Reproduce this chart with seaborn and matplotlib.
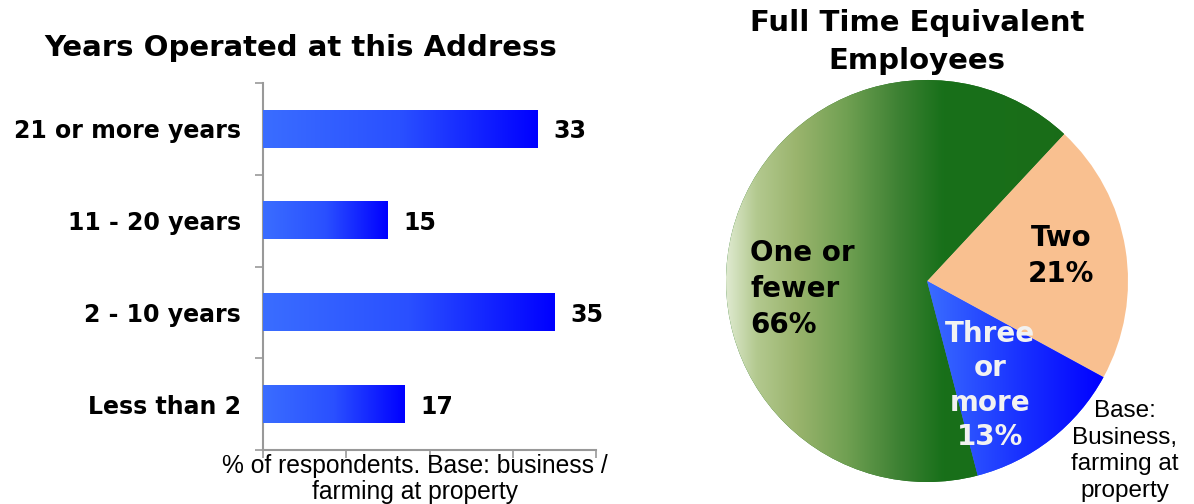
import numpy as np
import pandas as pd
import matplotlib
matplotlib.use("Agg")
import matplotlib.pyplot as plt
from matplotlib.colors import LinearSegmentedColormap, to_rgb
import seaborn as sns

# Years operated at this address (% of respondents)
year_groups = ["21 or more years", "11 - 20 years", "2 - 10 years", "Less than 2"]
year_pct = [33, 15, 35, 17]

# Full time equivalent employees (% of respondents)
fte_labels = ["Two\n21%", "Three\nor\nmore\n13%", "One or\nfewer\n66%"]
fte_pct = [21, 13, 66]

sns.set_theme(style="white")
plt.rcParams["font.family"] = ["DejaVu Sans"]
plt.rcParams.update({"text.color": "black", "axes.labelcolor": "black",
                     "xtick.color": "black", "ytick.color": "black"})

fig = plt.figure(figsize=(11.94, 5.04), dpi=100)
W, H = 1194, 504

# ---------------- bar chart ----------------
ax = fig.add_axes([263 / W, 54 / H, 333 / W, 367 / H])
df = pd.DataFrame({"group": year_groups, "pct": year_pct})
sns.barplot(data=df, x="pct", y="group", orient="h", ax=ax, width=0.41,
            color="#2a4fff", saturation=1, edgecolor="none")

bar_cmap = LinearSegmentedColormap.from_list("bar", ["#3a6dff", "#2a50ff", "#0000ff"])
grad = np.linspace(0, 1, 256).reshape(1, -1)
for p in ax.patches:
    x0, y0, w, h = p.get_x(), p.get_y(), p.get_width(), p.get_height()
    ax.imshow(grad, extent=[x0, x0 + w, y0 + h, y0], aspect="auto",
              cmap=bar_cmap, zorder=3, interpolation="bilinear")

for i, v in enumerate(year_pct):
    ax.text(v + 1.9, i, f"{v}", va="center_baseline", ha="left", fontsize=17,
            fontweight="bold", color="black")

ax.set_xlim(0, 40)
ax.set_ylim(3.5, -0.5)
ax.set_xticks([0, 10, 20, 30, 40])
ax.set_xticklabels([])
ax.set_yticks([-0.5, 0.5, 1.5, 2.5, 3.5])
ax.set_yticklabels([])
ax.set_yticks(range(len(year_groups)), minor=True)
ax.set_yticklabels(year_groups, minor=True, fontsize=17, fontweight="bold")
ax.tick_params(axis="y", which="minor", length=0, pad=16)
ax.tick_params(axis="both", which="major", length=6, width=1.2,
               color="#999999", direction="out")
ax.tick_params(axis="x", which="major", bottom=True)
ax.tick_params(axis="y", which="major", left=True)
ax.set_xlabel("")
ax.set_ylabel("")
for s in ["top", "right"]:
    ax.spines[s].set_visible(False)
for s in ["left", "bottom"]:
    ax.spines[s].set_color("#999999")
    ax.spines[s].set_linewidth(1.5)
ax.grid(False)

fig.text(301 / W, 1 - 48 / H, "Years Operated at this Address", ha="center",
         va="center", fontsize=21, fontweight="bold")
fig.text(415 / W, 1 - 479 / H, "% of respondents. Base: business /\nfarming at property",
         ha="center", va="center", fontsize=17.7, family="Liberation Sans",
         linespacing=1.15)

# ---------------- pie chart ----------------
pax = fig.add_axes([726 / W, 22 / H, 402 / W, 402 / H])
wedges, _ = pax.pie(fte_pct, startangle=47, counterclock=False,
                    colors=["#f9c090", "#2a4fff", "#1b6b17"], radius=1,
                    wedgeprops=dict(linewidth=0))

n = 400
xs = np.linspace(-1, 1, n)

def hgrad(stops):
    pos = [s[0] for s in stops]
    cols = np.array([to_rgb(s[1]) for s in stops])
    rgb = np.stack([np.interp(xs, pos, cols[:, k]) for k in range(3)], axis=-1)
    return np.repeat(rgb[None, :, :], 4, axis=0)

green_img = hgrad([(-1.0, "#dfead0"), (-0.85, "#b3c98f"), (-0.65, "#9ab46d"),
                   (-0.4, "#70a052"), (-0.15, "#3f8234"), (0.08, "#18701a"),
                   (1.0, "#1b6b17")])
blue_img = hgrad([(-1.0, "#3a6dff"), (0.0, "#3a6dff"), (0.45, "#1a33ff"),
                  (0.88, "#0000ff"), (1.0, "#0000ff")])

for img, w in [(green_img, wedges[2]), (blue_img, wedges[1])]:
    im = pax.imshow(img, extent=[-1, 1, -1, 1], aspect="auto", zorder=2,
                    interpolation="bilinear")
    im.set_clip_path(w)

pax.set_xlim(-1, 1)
pax.set_ylim(-1, 1)
pax.set_aspect("equal")
pax.axis("off")

pie_font = dict(fontsize=20, fontweight="bold", linespacing=1.35)
pax.text(-0.88, -0.04, fte_labels[2], ha="left", va="center", color="black", **pie_font)
pax.text(0.667, 0.125, fte_labels[0], ha="center", va="center", color="black",
         multialignment="center", **pie_font)
pax.text(0.313, -0.52, fte_labels[1], ha="center", va="center", color="#f2f2f2",
         multialignment="center", zorder=5, linespacing=1.3, fontsize=20,
         fontweight="bold")

fig.text(917 / W, 1 - 42 / H, "Full Time Equivalent\nEmployees", ha="center",
         va="center", fontsize=21, fontweight="bold", linespacing=1.48)
fig.text(1125 / W, 1 - 451 / H, "Base:\nBusiness,\nfarming at\nproperty",
         ha="center", va="center", fontsize=17.5, family="Liberation Sans",
         linespacing=1.27)

fig.savefig("out.png", dpi=100)
